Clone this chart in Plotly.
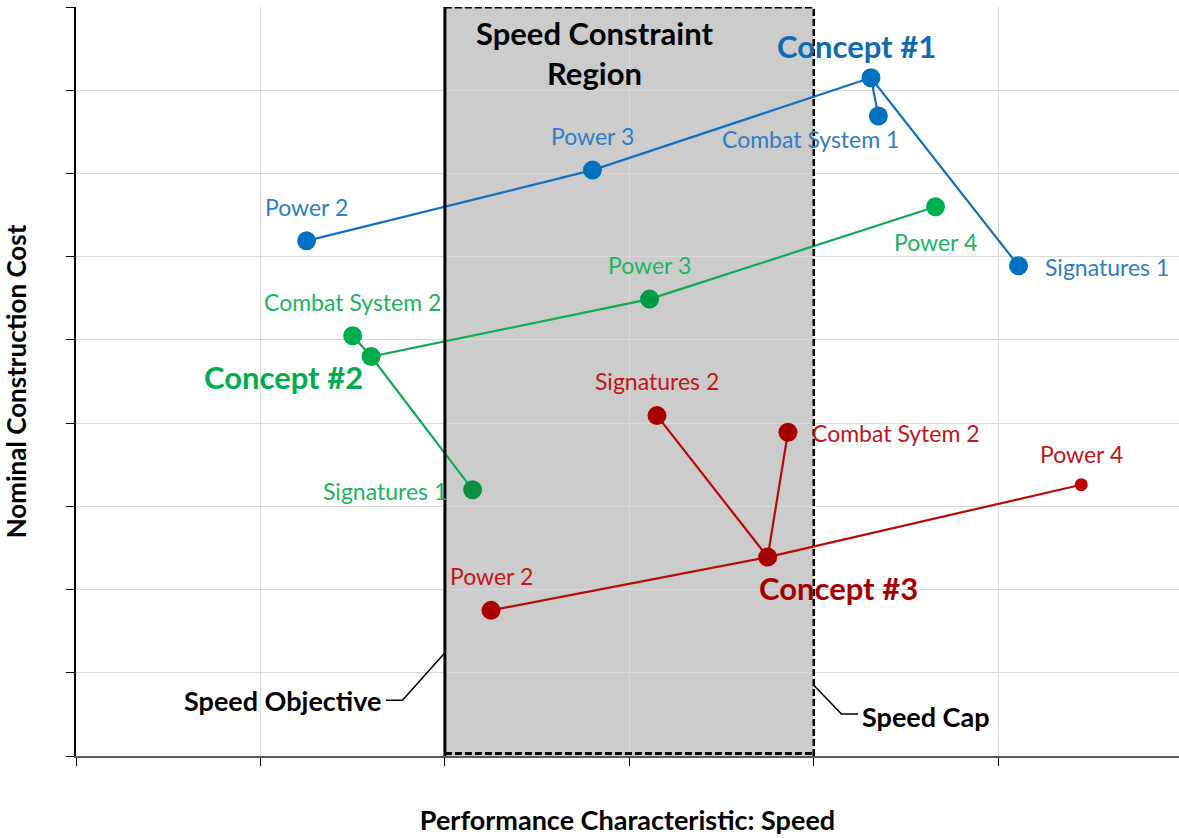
import plotly.graph_objects as go

# ---------------- data ----------------
c1_labels = ["Power 2", "Power 3", "Concept #1", "Combat System 1", "Signatures 1"]
c1_x = [1.25, 2.80, 4.31, 4.35, 5.11]
c1_y = [6.19, 7.04, 8.15, 7.69, 5.89]
c1_paths = [[0, 1, 2, 4], [2, 3]]

c2_labels = ["Combat System 2", "Concept #2", "Signatures 1", "Power 3", "Power 4"]
c2_x = [1.50, 1.60, 2.15, 3.11, 4.66]
c2_y = [5.05, 4.80, 3.20, 5.49, 6.60]
c2_paths = [[0, 1, 3, 4], [1, 2]]

c3_labels = ["Power 2", "Concept #3", "Signatures 2", "Combat Sytem 2", "Power 4"]
c3_x = [2.25, 3.75, 3.15, 3.86, 5.45]
c3_y = [1.75, 2.39, 4.09, 3.89, 3.26]
c3_paths = [[0, 1, 4], [2, 1, 3]]

speed_objective = 2.0
speed_cap = 4.0
x_range = [0, 5.98]
y_range = [0, 9]

FONT = "Lato"
DASH = "7px,3px"

# ---------------- styles ----------------
concepts = [
    dict(labels=c1_labels, x=c1_x, y=c1_y, paths=c1_paths,
         line="#1470BE", marker=["#0070C0"] * 5, sizes=[19] * 5,
         text="#2E7DC4", bold="#0E6AB5",
         pos=[(0, 34, "center"), (0, 34, "center"), (-14, 32, "center"),
              (-68, -23, "center"), (24, -1, "left")]),
    dict(labels=c2_labels, x=c2_x, y=c2_y, paths=c2_paths,
         line="#10AA55", marker=["#00B050", "#00AD4E", "#0A8F45", "#009A48", "#00B050"],
         sizes=[19] * 5,
         text="#1DB45E", bold="#00AD4E",
         pos=[(0, 34, "center"), (-88, -20, "center"), (-24, -1, "right"),
              (0, 34, "center"), (0, -35, "center")]),
    dict(labels=c3_labels, x=c3_x, y=c3_y, paths=c3_paths,
         line="#B50A0A", marker=["#A80000"] * 4 + ["#C00000"],
         sizes=[19, 19, 19, 19, 13],
         text="#C0161A", bold="#A50000",
         pos=[(0, 34, "center"), (71, -31, "center"), (0, 35, "center"),
              (22, -1, "left"), (0, 31, "center")]),
]

fig = go.Figure()
annotations = []

for c in concepts:
    lx, ly = [], []
    for p in c["paths"]:
        for i in p:
            lx.append(c["x"][i])
            ly.append(c["y"][i])
        lx.append(None)
        ly.append(None)
    fig.add_trace(go.Scatter(x=lx, y=ly, mode="lines",
                             line=dict(color=c["line"], width=2.2),
                             hoverinfo="skip", showlegend=False))
    fig.add_trace(go.Scatter(x=c["x"], y=c["y"], mode="markers",
                             marker=dict(color=c["marker"], size=c["sizes"], opacity=1,
                                         line=dict(width=0)),
                             text=c["labels"], hoverinfo="text", showlegend=False))
    for lab, xv, yv, (dx, dy, xa) in zip(c["labels"], c["x"], c["y"], c["pos"]):
        is_concept = lab.startswith("Concept")
        annotations.append(dict(
            x=xv, y=yv, xref="x", yref="y", text=lab, showarrow=False,
            xshift=dx, yshift=dy, xanchor=xa, yanchor="middle",
            font=dict(family=FONT, size=31 if is_concept else 23,
                      color=c["bold"] if is_concept else c["text"],
                      weight="bold" if is_concept else "normal")))

# constraint region
shapes = [
    dict(type="rect", xref="x", yref="y", x0=speed_objective, x1=speed_cap,
         y0=y_range[0], y1=y_range[1], fillcolor="#CCCCCC", line=dict(width=0),
         layer="below"),
    dict(type="line", xref="x", yref="y", x0=speed_objective, x1=speed_cap,
         y0=y_range[1], y1=y_range[1], line=dict(color="black", width=3, dash=DASH),
         layer="above"),
    dict(type="line", xref="x", yref="y", x0=speed_objective, x1=speed_cap,
         y0=y_range[0] + 0.03, y1=y_range[0] + 0.03,
         line=dict(color="black", width=3, dash=DASH), layer="above"),
    dict(type="line", xref="x", yref="y", x0=speed_cap, x1=speed_cap,
         y0=y_range[0], y1=y_range[1], line=dict(color="black", width=2.5, dash=DASH),
         layer="above"),
    dict(type="line", xref="x", yref="y", x0=speed_objective, x1=speed_objective,
         y0=y_range[0], y1=y_range[1], line=dict(color="black", width=3),
         layer="above"),
    # leader lines
    dict(type="path", xref="x", yref="y",
         path=f"M {speed_objective},1.24 L 1.77,0.67 L 1.68,0.67",
         line=dict(color="black", width=1.5), layer="above"),
    dict(type="path", xref="x", yref="y",
         path=f"M {speed_cap},0.85 L 4.15,0.505 L 4.24,0.505",
         line=dict(color="black", width=1.5), layer="above"),
]

annotations += [
    dict(x=(speed_objective + speed_cap) / 2, y=y_range[1], xref="x", yref="y",
         xshift=-35, yshift=-5, xanchor="center", yanchor="top", showarrow=False,
         text="Speed Constraint<br>Region",
         font=dict(family=FONT, size=31, color="black", weight="bold")),
    dict(x=1.68, y=0.67, xref="x", yref="y", xanchor="right", yanchor="middle",
         xshift=-3, showarrow=False, text="Speed Objective",
         font=dict(family=FONT, size=27, color="black", weight="bold")),
    dict(x=4.24, y=0.505, xref="x", yref="y", xanchor="left", yanchor="middle",
         xshift=2, yshift=-3, showarrow=False, text="Speed Cap",
         font=dict(family=FONT, size=27, color="black", weight="bold")),
]

fig.update_layout(
    width=1179, height=838, autosize=False,
    margin=dict(l=76, r=0, t=7, b=82),
    paper_bgcolor="white", plot_bgcolor="white",
    shapes=shapes, annotations=annotations,
    font=dict(family=FONT),
    xaxis=dict(range=x_range, dtick=1, tick0=0, showticklabels=False,
               showgrid=True, gridcolor="#D9D9D9", gridwidth=1,
               zeroline=False, showline=True, linecolor="#595959", linewidth=1.5,
               ticks="outside", ticklen=8, tickcolor="black", tickwidth=1.2,
               title=dict(text="Performance Characteristic: Speed", standoff=46,
                          font=dict(family=FONT, size=27, color="black", weight="bold"))),
    yaxis=dict(range=y_range, dtick=1, tick0=0, showticklabels=False,
               showgrid=True, gridcolor="#D9D9D9", gridwidth=1,
               zeroline=False, showline=True, linecolor="black", linewidth=1.5,
               ticks="outside", ticklen=8, tickcolor="black", tickwidth=1.2,
               title=dict(text="Nominal Construction Cost", standoff=36,
                          font=dict(family=FONT, size=26, color="black", weight="bold"))),
)

fig.write_html("out.html", config={"displayModeBar": False},
               post_script="document.body.style.margin='0px';")
